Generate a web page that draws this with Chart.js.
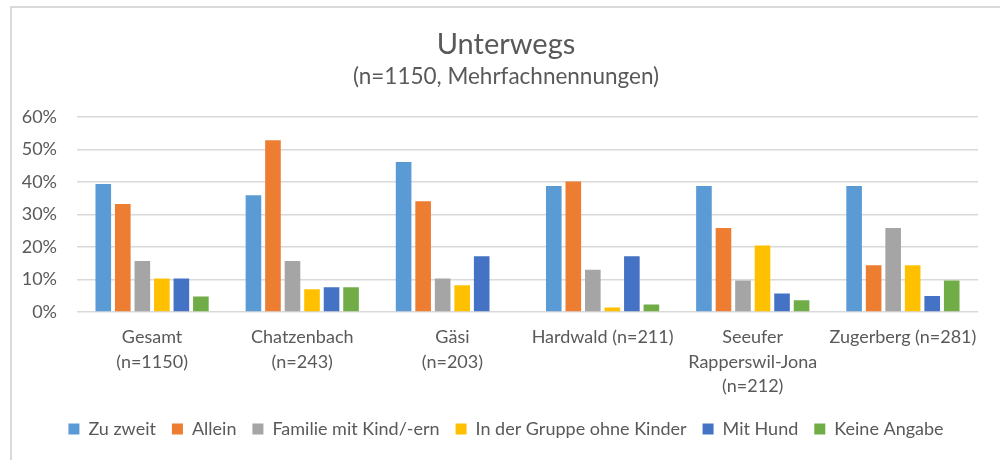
<!DOCTYPE html>
<html lang="de">
<head>
<meta charset="utf-8">
<title>Unterwegs</title>
<script src="https://cdn.jsdelivr.net/npm/chart.js@4.4.1/dist/chart.umd.min.js"></script>
<style>
    html, body { margin: 0; padding: 0; background: #fff; overflow: hidden; width: 1000px; height: 460px; }
    #rahmen { position: absolute; left: 10px; top: 6px; width: 1100px; height: 600px;
              border-left: 2px solid #d9d9d9; border-top: 2px solid #d9d9d9; }
    #wrap { position: absolute; left: 0; top: 0; width: 1012px; height: 460px; }
</style>
</head>
<body>
<div id="rahmen"></div>
<div id="wrap"><canvas id="unterwegsChart"></canvas></div>
<script>
// Kategorien (x-Achse), mehrzeilige Beschriftungen
const kategorien = [
    ["Gesamt", "(n=1150)"],
    ["Chatzenbach", "(n=243)"],
    ["Gäsi", "(n=203)"],
    "Hardwald (n=211)",
    ["Seeufer", "Rapperswil-Jona", "(n=212)"],
    "Zugerberg (n=281)"
];

// Werte in Prozent
const zuZweit = [39.3, 35.9, 46.1, 38.7, 38.7, 38.7];
const allein = [33.2, 52.8, 34.0, 40.1, 25.8, 14.4];
const familie = [15.7, 15.7, 10.3, 13.0, 9.7, 25.8];
const gruppeOhneKinder = [10.3, 7.0, 8.2, 1.4, 20.4, 14.4];
const mitHund = [10.3, 7.6, 17.1, 17.1, 5.7, 4.9];
const keineAngabe = [4.8, 7.6, 0, 2.3, 3.6, 9.7];

const yTicks = [0, 10, 20, 30, 40, 50, 60];

const schrift = "Lato, 'Open Sans', sans-serif";
const grau = "#595959";

new Chart(document.getElementById("unterwegsChart"), {
    type: "bar",
    data: {
        labels: kategorien,
        datasets: [
            { label: "Zu zweit", data: zuZweit, backgroundColor: "#5B9BD5" },
            { label: "Allein", data: allein, backgroundColor: "#ED7D31" },
            { label: "Familie mit Kind/-ern", data: familie, backgroundColor: "#A5A5A5" },
            { label: "In der Gruppe ohne Kinder", data: gruppeOhneKinder, backgroundColor: "#FFC000" },
            { label: "Mit Hund", data: mitHund, backgroundColor: "#4472C4" },
            { label: "Keine Angabe", data: keineAngabe, backgroundColor: "#70AD47" },
        ],
    },
    options: {
        responsive: true,
        maintainAspectRatio: false,
        animation: false,
        datasets: { bar: { categoryPercentage: 0.78, barPercentage: 0.8 } },
        layout: { padding: { left: 0, right: 0, top: 0, bottom: 12 } },
        plugins: {
            title: {
                display: true,
                text: "Unterwegs",
                color: grau,
                font: { family: schrift, size: 29, weight: "normal" },
                padding: { top: 27, bottom: 1.7 },
            },
            subtitle: {
                display: true,
                text: "(n=1150, Mehrfachnennungen)",
                color: grau,
                font: { family: schrift, size: 22.5, weight: "normal" },
                padding: { top: 0, bottom: 26.2 },
            },
            legend: {
                display: true,
                position: "bottom",
                labels: {
                    boxWidth: 11,
                    boxHeight: 11,
                    padding: 16,
                    color: grau,
                    font: { family: schrift, size: 18 },
                },
            },
            tooltip: { enabled: false },
        },
        scales: {
            x: {
                afterFit: (scale) => { scale.height = 92; },
                grid: { display: false, drawTicks: false },
                border: { display: false },
                ticks: {
                    color: grau,
                    font: { family: schrift, size: 18, lineHeight: 1.36 },
                    padding: 13,
                    maxRotation: 0,
                    autoSkip: false,
                },
            },
            y: {
                min: 0,
                max: 60,
                afterFit: (scale) => { scale.width = 77; },
                afterBuildTicks: (scale) => { scale.ticks = yTicks.map(v => ({ value: v })); },
                grid: { color: "#d9d9d9", lineWidth: 1.5, drawTicks: false },
                border: { display: false },
                ticks: {
                    color: grau,
                    font: { family: schrift, size: 18 },
                    padding: 20,
                    callback: (v) => v + "%",
                },
            },
            // leere Achse rechts, damit Titel und Legende mittig im Rahmen stehen
            rechts: {
                position: "right",
                afterFit: (scale) => { scale.width = 34; },
                grid: { display: false, drawTicks: false },
                border: { display: false },
                ticks: { display: false },
            },
        },
    },
});
</script>
</body>
</html>
